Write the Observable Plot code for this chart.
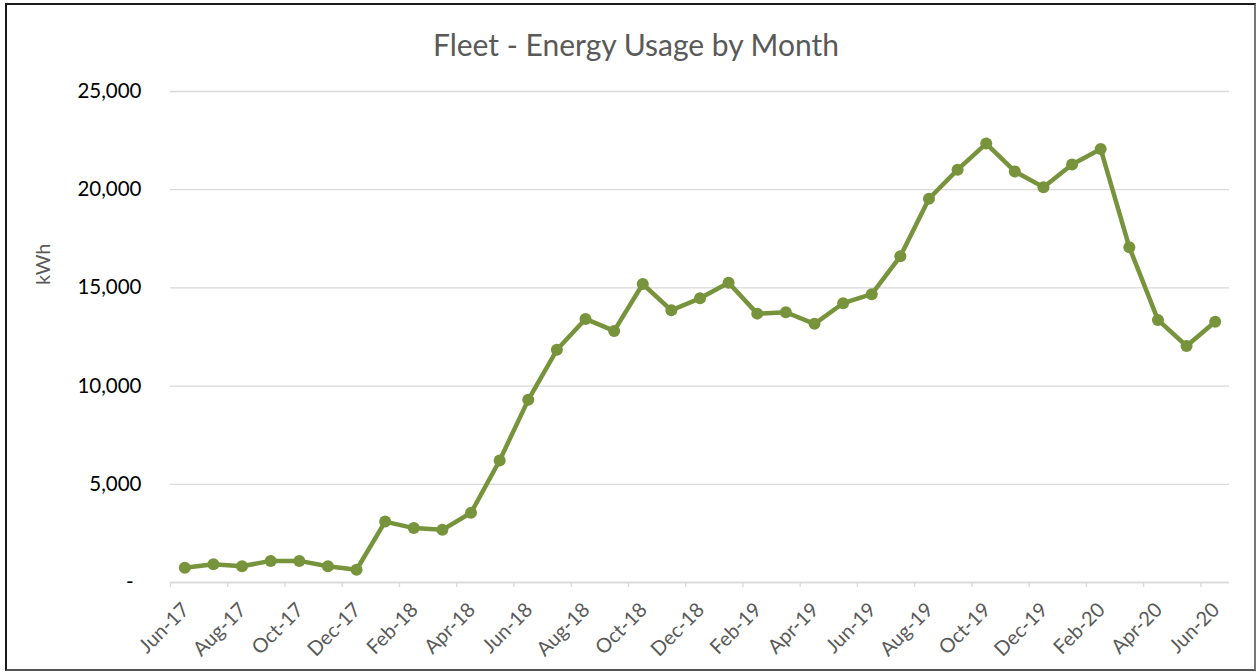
<!DOCTYPE html>
<html>
<head>
<meta charset="utf-8">
<script src="https://cdn.jsdelivr.net/npm/d3@7"></script>
<script src="https://cdn.jsdelivr.net/npm/@observablehq/plot@0.6"></script>
<style>
  html, body { margin: 0; padding: 0; background: #fff; }
  #wrap { position: relative; width: 1258px; height: 672px; overflow: hidden; }
  #border { position: absolute; left: 5px; top: 3px; width: 1247px; height: 664px; border: 2px solid #1a1a1a; border-bottom-color: #555; border-right-color: #777; pointer-events: none; }
  svg { display: block; }
</style>
</head>
<body>
<div id="wrap"><div id="chart"></div><div id="border"></div></div>
<script>
const months = ["Jun-17","Jul-17","Aug-17","Sep-17","Oct-17","Nov-17","Dec-17",
  "Jan-18","Feb-18","Mar-18","Apr-18","May-18","Jun-18","Jul-18","Aug-18","Sep-18","Oct-18","Nov-18","Dec-18",
  "Jan-19","Feb-19","Mar-19","Apr-19","May-19","Jun-19","Jul-19","Aug-19","Sep-19","Oct-19","Nov-19","Dec-19",
  "Jan-20","Feb-20","Mar-20","Apr-20","May-20","Jun-20"];
const kwh = [750, 930, 830, 1100, 1100, 830, 650,
  3100, 2770, 2680, 3550, 6210, 9300, 11850, 13420, 12810, 15200, 13860, 14470,
  15260, 13690, 13760, 13170, 14220, 14680, 16610, 19540, 21020, 22350, 20930, 20130,
  21280, 22070, 17070, 13370, 12040, 13280];
const tickLabels = ["Jun-17","Aug-17","Oct-17","Dec-17","Feb-18","Apr-18","Jun-18","Aug-18","Oct-18","Dec-18",
  "Feb-19","Apr-19","Jun-19","Aug-19","Oct-19","Dec-19","Feb-20","Apr-20","Jun-20"];
const yTicks = [0, 5000, 10000, 15000, 20000, 25000];
const title = "Fleet - Energy Usage by Month";
const yLabel = "kWh";

const data = months.map((m, i) => ({month: m, value: kwh[i]}));

const W = 1258, H = 672, mL = 170, mR = 29, mT = 91, mB = 90;
const step = (W - mL - mR) / months.length;
const green = "#77933C";
const font = "Lato, 'Open Sans', sans-serif";

const fmt = d3.format(",");
const chart = Plot.plot({
  width: W, height: H,
  marginLeft: mL, marginRight: mR, marginTop: mT, marginBottom: mB,
  style: {fontFamily: font, background: "#fff"},
  x: {type: "point", domain: months, padding: 0.5, round: false},
  y: {domain: [0, 25000]},
  marks: [
    Plot.gridY(yTicks, {stroke: "#d9d9d9", strokeOpacity: 1, strokeWidth: 1.3}),
    Plot.axisY(yTicks, {tickSize: 0, tickPadding: 29, fontSize: 20.5, fill: "#000",
      tickFormat: d => d === 0 ? "-\u00a0\u2009" : fmt(d), label: null}),
    Plot.ruleY([0], {stroke: "#d9d9d9", strokeWidth: 1.3}),
    Plot.axisX(tickLabels, {tickSize: 5, tickFormat: () => "", stroke: "#d9d9d9", strokeWidth: 1.3, dx: -step / 2, label: null}),
    Plot.text(tickLabels, {x: d => d, frameAnchor: "bottom", rotate: -45, textAnchor: "end", lineAnchor: "middle",
      dx: 1, dy: 24, fontSize: 20, fill: "#595959"}),
    Plot.line(data, {x: "month", y: "value", stroke: green, strokeWidth: 4.5, strokeLinejoin: "round"}),
    Plot.dot(data, {x: "month", y: "value", r: 6, fill: green, stroke: "none"}),
    Plot.text([title], {frameAnchor: "top", dx: -64, dy: -45, fontSize: 30, fill: "#595959", lineAnchor: "middle"}),
    Plot.text([yLabel], {frameAnchor: "left", rotate: -90, dx: -127, dy: -52, fontSize: 20, fill: "#595959", lineAnchor: "middle"})
  ]
});
document.getElementById("chart").appendChild(chart);
</script>
</body>
</html>
